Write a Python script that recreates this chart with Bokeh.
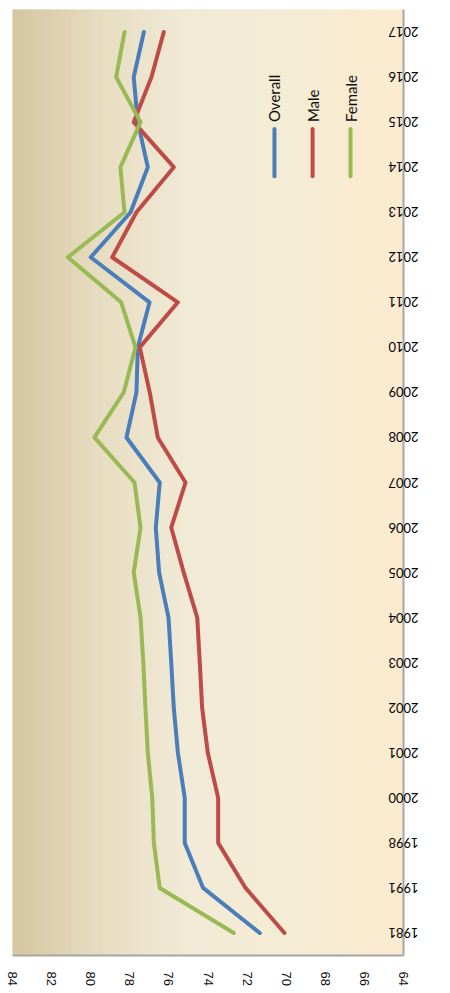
import math
from bokeh.plotting import figure
from bokeh.models import Range1d, FixedTicker
from bokeh.core.properties import value
from bokeh.embed import file_html
from bokeh.resources import INLINE

# ---- data ----
years = ["1981", "1991", "1998", "2000", "2001", "2002", "2003", "2004", "2005", "2006",
         "2007", "2008", "2009", "2010", "2011", "2012", "2013", "2014", "2015", "2016", "2017"]
overall = [71.35, 74.25, 75.19, 75.19, 75.54, 75.75, 75.88, 76.02, 76.50, 76.67,
           76.47, 78.17, 77.66, 77.59, 76.99, 80.00, 77.96, 77.08, 77.59, 77.80, 77.28]
male = [70.09, 72.08, 73.48, 73.48, 74.01, 74.30, 74.42, 74.55, 75.24, 75.88,
        75.15, 76.57, 76.98, 77.49, 75.54, 78.90, 77.66, 75.75, 77.80, 76.89, 76.26]
female = [72.68, 76.47, 76.77, 76.85, 77.08, 77.20, 77.31, 77.45, 77.80, 77.45,
          77.76, 79.81, 78.31, 77.71, 78.44, 81.17, 78.27, 78.48, 77.45, 78.70, 78.27]
value_ticks = [84, 82, 80, 78, 76, 74, 72, 70, 68, 66, 64]
series_names = ["Overall", "Male", "Female"]
series_colors = ["#4A7EBB", "#BE4B48", "#98B954"]

idx = list(range(len(years)))

p = figure(frame_width=391, frame_height=946,
           x_range=Range1d(84, 64), y_range=Range1d(-0.5, len(years) - 0.5),
           y_axis_location="right", x_axis_location="below",
           output_backend="svg", toolbar_location=None,
           min_border_left=12, min_border_top=9, min_border_right=0, min_border_bottom=0)
p.outline_line_color = None
p.grid.visible = False
p.border_fill_color = "white"
p.background_fill_color = "white"

# ---- gradient background (left tan -> right cream) ----
stops = [(0.0, (212, 198, 160)), (0.22, (230, 220, 192)), (0.45, (241, 234, 214)),
         (0.7, (245, 236, 213)), (1.0, (252, 235, 207))]
def col_at(t):
    for (t0, c0), (t1, c1) in zip(stops[:-1], stops[1:]):
        if t0 <= t <= t1:
            f = (t - t0) / (t1 - t0)
            c = [round(a + (b - a) * f) for a, b in zip(c0, c1)]
            return "#%02x%02x%02x" % tuple(c)
    return "#%02x%02x%02x" % stops[-1][1]
n = 80
lefts, rights, cols = [], [], []
for k in range(n):
    t0 = k / n
    t1 = (k + 1) / n
    lefts.append(84 - 20 * t0)
    rights.append(84 - 20 * t1)
    cols.append(col_at((t0 + t1) / 2))
p.quad(left=lefts, right=rights, bottom=-0.5, top=len(years) - 0.5,
       fill_color=cols, line_color=cols, line_width=1)

# ---- lines ----
for vals, c in zip([overall, male, female], series_colors):
    p.line(vals, idx, line_color=c, line_width=4, line_join="round", line_cap="round")

# ---- legend (vertical) ----
leg_x = [70.6, 68.65, 66.71]
p.segment(x0=leg_x, y0=[16.8] * 3, x1=leg_x, y1=[17.85] * 3,
          line_color=series_colors, line_width=4, line_cap="round")
p.text(x=leg_x, y=[18.0] * 3, text=series_names, angle=math.pi / 2,
       text_align="left", text_baseline="middle",
       text_font=value("Lato"), text_font_size="15px", text_color="#111111")

# ---- axes ----
xa = p.xaxis[0]
xa.ticker = FixedTicker(ticks=value_ticks)
xa.major_label_orientation = "vertical"
xa.major_tick_line_color = None
xa.minor_tick_line_color = None
xa.axis_line_color = "#A6A6A6"
xa.axis_line_width = 2
xa.major_label_standoff = 10
xa.major_label_text_font = "Liberation Sans"
xa.major_label_text_font_size = "13px"
xa.major_label_text_color = "#111111"

ya = p.yaxis[0]
ya.ticker = FixedTicker(ticks=idx)
ya.major_label_overrides = {i: y for i, y in zip(idx, years)}
ya.major_label_orientation = math.pi
ya.major_tick_line_color = None
ya.minor_tick_line_color = None
ya.axis_line_color = "#A6A6A6"
ya.axis_line_width = 2
ya.major_label_standoff = 9
ya.major_label_text_font = "Lato"
ya.major_label_text_font_size = "13px"
ya.major_label_text_color = "#000000"

open("out.html", "w").write(file_html(p, INLINE))
